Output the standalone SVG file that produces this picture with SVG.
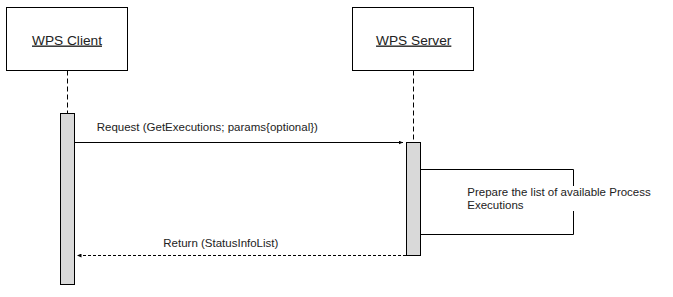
<svg xmlns="http://www.w3.org/2000/svg" width="673" height="297" viewBox="0 0 673 297">
<style>
.box{fill:#fff;stroke:#000;stroke-width:1}
.act{fill:#d9d9d9;stroke:#000;stroke-width:1}
.life{stroke:#000;stroke-width:1;stroke-dasharray:5 3;fill:none}
.msg{stroke:#000;stroke-width:1;fill:none}
.ret{stroke:#000;stroke-width:1;fill:none;stroke-dasharray:3 2}
.title{font-family:"Liberation Sans",Arial,sans-serif;font-size:13.7px;fill:#222;text-anchor:middle;text-decoration:underline}
.lbl{font-family:"Liberation Sans",Arial,sans-serif;font-size:11.5px;fill:#222}
</style>
<defs>
<marker id="arr" markerWidth="5" markerHeight="4" refX="4.5" refY="2" orient="auto" markerUnits="userSpaceOnUse">
<path d="M0,0 L4.5,2 L0,4 Z" fill="#000"/>
</marker>
</defs>
<rect width="673" height="297" fill="#fff"/>
<g id="client">
<rect class="box" x="6.5" y="7.5" width="121" height="63"/>
<text class="title" x="67" y="44.5">WPS Client</text>
<line class="life" x1="67.5" y1="70.5" x2="67.5" y2="113.5"/>
<rect class="act" x="60.5" y="113.5" width="14" height="171"/>
</g>
<g id="server">
<rect class="box" x="352.5" y="7.5" width="121" height="63"/>
<text class="title" x="413.7" y="44.5">WPS Server</text>
<line class="life" x1="413.5" y1="70.5" x2="413.5" y2="142.5"/>
<rect class="act" x="406.5" y="142.5" width="14" height="113"/>
</g>
<g id="connectors">
<line class="msg" x1="74.5" y1="142.5" x2="403" y2="142.5" marker-end="url(#arr)"/>
<text class="lbl" x="96.7" y="131">Request (GetExecutions; params{optional})</text>
<polyline class="msg" points="420.5,169.5 573.5,169.5 573.5,234.5 420.5,234.5"/>
<rect x="465" y="186" width="190" height="25" fill="#fff"/>
<text class="lbl" x="467.3" y="196">Prepare the list of available Process</text>
<text class="lbl" x="467.3" y="209">Executions</text>
<line class="ret" x1="406" y1="255.5" x2="77" y2="255.5" marker-end="url(#arr)"/>
<text class="lbl" x="163.3" y="247">Return (StatusInfoList)</text>
</g>
</svg>
